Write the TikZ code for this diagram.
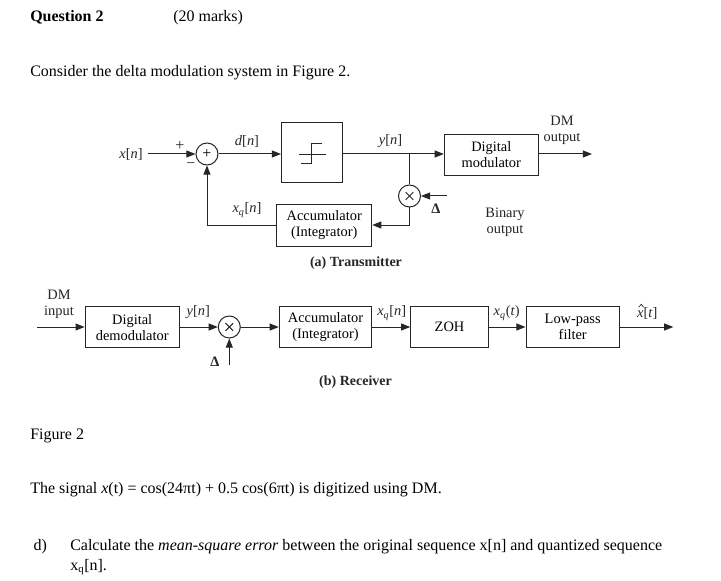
\documentclass[tikz,border=0pt]{standalone}
\usepackage{fontspec}
\setmainfont{Liberation Serif}
\usetikzlibrary{arrows.meta,calc}
\tikzset{
  dfont/.style={font=\fontsize{10.8}{12}\selectfont},
  blk/.style={draw=black!85, line width=0.75pt, inner sep=0pt, align=center, dfont},
  opc/.style={draw=black!85, line width=0.75pt, circle, minimum size=16.5pt, inner sep=0pt, dfont},
  lbl/.style={dfont, inner sep=0pt, text=black!85},
  sgn/.style={font=\fontsize{12}{12}\selectfont, inner sep=0pt, text=black!85},
  capt/.style={font=\fontsize{10.5}{12}\selectfont\bfseries, inner sep=0pt, text=black!85},
  body/.style={font=\fontsize{12}{14}\selectfont, anchor=base west, inner sep=0pt},
  sig/.style={-{Triangle[length=6.8pt,width=5.2pt]}},
  wire/.style={draw=black!85, line width=0.75pt},
}
\begin{document}
\begin{tikzpicture}[x=0.75pt,y=-0.75pt]
\path[use as bounding box, fill=white] (0,0) rectangle (721,581);

% ---------- body text ----------
\node[body] (t1) at (30,22) {\textbf{Question 2}};
\node[body] (t2) at (173,22) {(20 marks)};
\node[body] (t3) at (30,77) {Consider the delta modulation system in Figure 2.};
\node[body] (t4) at (30,439.3) {Figure 2};
\node[body] (t5) at (30,493.3) {The signal \textit{x}(t) = cos(24πt) + 0.5 cos(6πt) is digitized using DM.};
\node[body] (t6) at (33.3,550.7) {d)};
\node[body] (t7) at (70,550.7) {Calculate the \textit{mean-square error} between the original sequence x[n] and quantized sequence};
\node[body] (t8) at (70,570) {x\textsubscript{q}[n].};

% ---------- transmitter ----------
\node[opc] (sum) at (207,154) {\fontsize{12}{12}\selectfont +};
\node[blk, minimum width=45.4pt, minimum height=45pt] (q) at (311.75,152.3) {};
\draw[wire] (300.7,163.3) -- (311.7,163.3) -- (311.7,143.7) -- (322.3,143.7);
\draw[wire] (299,154.3) -- (325.7,154.3);
\node[blk, minimum width=70.5pt, minimum height=30.5pt] (mod) at (491.3,154.7) {Digital\\modulator};
\node[blk, minimum width=71.25pt, minimum height=30.75pt] (acct) at (324.2,225.5) {Accumulator\\(Integrator)};
\node[opc] (mtx) at (409.5,196) {};
\draw[wire] ($(mtx)+(-3.8,-3.8)$) -- ($(mtx)+(3.8,3.8)$);
\draw[wire] ($(mtx)+(-3.8,3.8)$) -- ($(mtx)+(3.8,-3.8)$);

\coordinate (xin) at (148,154);
\coordinate (j) at (409.5,154);
\coordinate (dmout) at (592,154);
\coordinate (dtx) at (447,196);
\coordinate (fbR) at (409.5,225);
\coordinate (fbL) at (207,225);

\draw[wire, sig] (xin) -- (sum.west);
\draw[wire, sig] (sum.east) -- (sum.east -| q.west);
\draw[wire] (q.east |- sum) -- (j);
\draw[wire, sig] (j) -- (j -| mod.west);
\draw[wire, sig] (mod.east |- j) -- (dmout);
\draw[wire] (j) -- (mtx.north);
\draw[wire, sig] (mtx.south) -- (fbR) -- (fbR -| acct.east);
\draw[wire, sig] (acct.west |- fbR) -- (fbL) -- (sum.south);
\draw[wire, sig] (dtx) -- (mtx.east);

\node[lbl] (lxn) at (131,154) {\textit{x}[\textit{n}]};
\node[sgn] (lplus) at (180,146) {+};
\node[sgn] (lminus) at (191,166) {−};
\node[lbl] (ldn) at (247,141) {\textit{d}[\textit{n}]};
\node[lbl] (lyt) at (390.5,141) {\textit{y}[\textit{n}]};
\node[lbl, align=center] (ldmo) at (562,130) {DM\\output};
\node[lbl] (ldt) at (436,208.5) {\textbf{Δ}};
\node[lbl, align=center] (lbin) at (505,222) {Binary\\output};
\node[lbl] (lxqt) at (247,210) {\textit{x}\textsubscript{\textit{q}}[\textit{n}]};
\node[capt] (capa) at (356,263) {(a) Transmitter};

% ---------- receiver ----------
\node[blk, minimum width=70.7pt, minimum height=30.75pt] (dem) at (132.2,327.2) {Digital\\demodulator};
\node[opc] (mrx) at (229.3,327) {};
\draw[wire] ($(mrx)+(-3.8,-3.8)$) -- ($(mrx)+(3.8,3.8)$);
\draw[wire] ($(mrx)+(-3.8,3.8)$) -- ($(mrx)+(3.8,-3.8)$);
\node[blk, minimum width=69.3pt, minimum height=30.75pt] (accr) at (325.5,327.2) {Accumulator\\(Integrator)};
\node[blk, minimum width=58.2pt, minimum height=30.5pt] (zoh) at (449.5,327) {ZOH};
\node[blk, minimum width=70pt, minimum height=30.5pt] (lpf) at (572.7,327) {Low-pass\\filter};

\coordinate (rin) at (37.3,327);
\coordinate (rout) at (673.3,327);
\coordinate (drx) at (229.3,365);

\draw[wire, sig] (rin) -- (rin -| dem.west);
\draw[wire, sig] (dem.east |- mrx) -- (mrx.west);
\draw[wire, sig] (mrx.east) -- (mrx.east -| accr.west);
\draw[wire, sig] (accr.east |- mrx) -- (mrx -| zoh.west);
\draw[wire, sig] (zoh.east |- mrx) -- (mrx -| lpf.west);
\draw[wire, sig] (lpf.east |- mrx) -- (rout);
\draw[wire, sig] (drx) -- (mrx.south);

\node[lbl, align=center] (ldmi) at (59,304) {DM\\input};
\node[lbl] (lyr) at (198.3,311.7) {\textit{y}[\textit{n}]};
\node[lbl] (ldr) at (215,362) {\textbf{Δ}};
\node[lbl] (lxqr) at (391.7,313) {\textit{x}\textsubscript{\textit{q}}[\textit{n}]};
\node[lbl] (lxqtt) at (506.7,313) {\textit{x}\textsubscript{\textit{q}}(\textit{t})};
\node[lbl] (lxh) at (647.3,313) {\textit{x}[\textit{t}]};
\draw[draw=black!85, line width=0.5pt] ($(lxh.west)+(1.8,-5.8)$) -- ($(lxh.west)+(4.3,-8.6)$) -- ($(lxh.west)+(6.8,-5.8)$);
\node[capt] (capb) at (355.5,382) {(b) Receiver};
\end{tikzpicture}
\end{document}
